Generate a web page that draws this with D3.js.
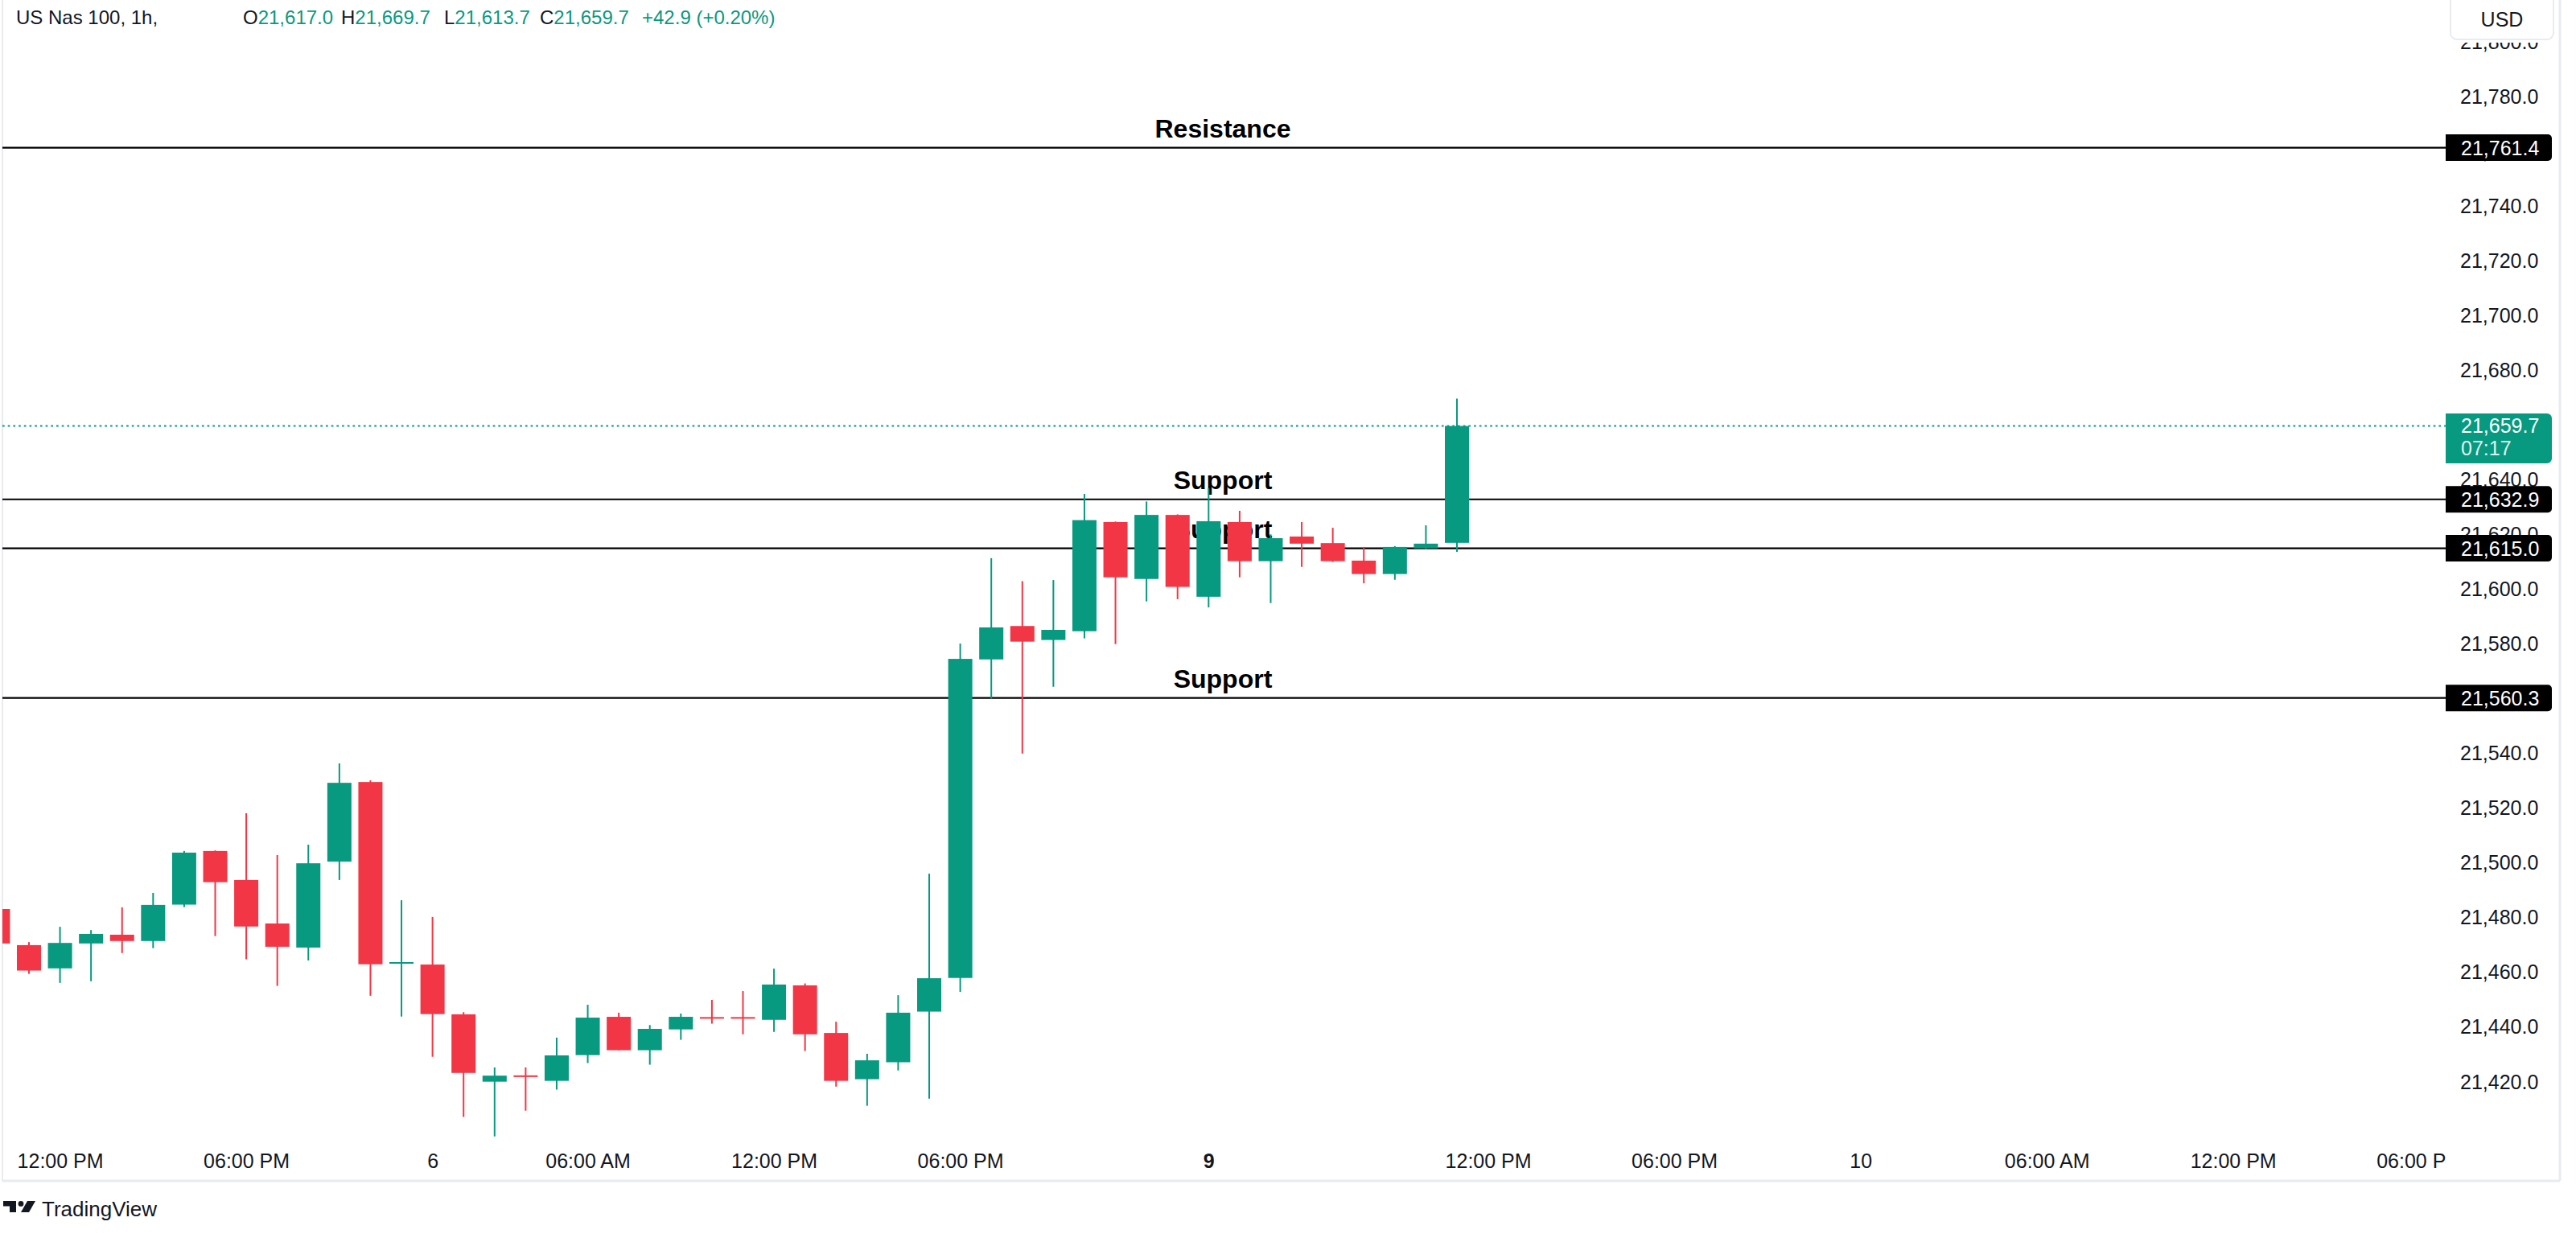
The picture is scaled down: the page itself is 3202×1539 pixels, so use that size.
<!DOCTYPE html>
<html><head><meta charset="utf-8">
<script src="https://cdn.jsdelivr.net/npm/d3@7"></script>
<style>
html,body{margin:0;padding:0;background:#fff;}
svg{display:block;font-family:"Liberation Sans",Arial,sans-serif;}
</style>
</head><body>
<svg id="c" width="3202" height="1539"></svg>
<script>
// ---- data (hourly candles, oldest first) ----
const opens  = [21483.2,21470.0,21461.5,21470.6,21473.8,21471.5,21484.8,21504.4,21493.8,21477.9,21469.1,21500.5,21529.6,21463.3,21462.9,21444.7,21420.1,21422.4,21420.4,21429.8,21443.8,21431.6,21439.2,21443.7,21443.7,21442.7,21455.3,21437.9,21421.0,21427.2,21445.7,21458.0,21574.4,21586.6,21581.5,21584.7,21624.6,21603.8,21627.2,21597.3,21624.6,21610.3,21619.3,21616.9,21610.5,21605.6,21615.0,21617.0];
const highs  = [21484.0,21471.1,21476.7,21475.5,21483.8,21489.1,21504.4,21504.6,21518.2,21502.9,21506.7,21536.4,21530.2,21486.4,21480.3,21445.5,21425.3,21425.3,21436.2,21448.2,21445.3,21440.8,21445.0,21450.0,21453.2,21461.4,21456.0,21442.0,21430.3,21451.7,21496.1,21580.2,21611.4,21603.0,21603.4,21634.9,21624.8,21632.1,21627.4,21637.0,21628.7,21620.1,21624.6,21622.5,21615.5,21615.8,21623.4,21669.7];
const lows   = [21470.0,21459.5,21456.2,21456.8,21467.1,21468.9,21483.9,21473.3,21464.8,21455.1,21464.4,21493.8,21451.5,21443.9,21429.2,21407.2,21400.1,21409.5,21417.2,21426.9,21431.6,21426.3,21435.4,21441.3,21437.4,21438.3,21431.3,21418.3,21411.3,21424.2,21413.9,21452.9,21560.1,21540.0,21564.4,21582.1,21580.0,21595.6,21596.4,21593.4,21604.4,21595.0,21608.2,21610.0,21602.2,21603.5,21614.7,21613.7];
const closes = [21470.6,21460.7,21470.8,21474.1,21471.5,21484.7,21503.8,21493.0,21476.8,21469.4,21499.9,21529.3,21463.0,21463.8,21444.8,21423.3,21422.3,21421.9,21429.7,21443.5,21431.6,21439.4,21443.8,21443.3,21443.2,21455.6,21437.4,21420.4,21427.9,21445.3,21457.9,21574.6,21586.1,21580.9,21585.2,21625.3,21604.4,21627.2,21600.9,21624.9,21610.3,21618.7,21616.7,21610.3,21605.6,21615.5,21616.7,21659.7];

const priceTicks = d3.range(21420, 21801, 20);
const timeLabels = ["12:00 PM","06:00 PM","6","06:00 AM","12:00 PM","06:00 PM","9","12:00 PM","06:00 PM","10","06:00 AM","12:00 PM","06:00 PM"];
const timeLabelIdx = [2,8,14,19,25,31,39,48,54,60,66,72,78];
const boldTimeLabels = ["9"];

const levelNames  = ["Resistance","Support","Support","Support"];
const levelValues = [21761.4, 21632.9, 21615.0, 21560.3];

const symbolTitle = "US Nas 100, 1h,";
const ohlcKeys = ["O","H","L","C"];
const ohlcVals = ["21,617.0","21,669.7","21,613.7","21,659.7"];
const changeText = "+42.9 (+0.20%)";
const lastPrice = 21659.7;
const countdown = "07:17";
const currency = "USD";

// ---- layout ----
const UP = "#089981", DOWN = "#f23645", TXT = "#131722", BORDER = "#e8ebef";
const plotL = 3, plotR = 3040, axisBottom = 1468, rightEdge = 3182;
const svg = d3.select("#c");

const x = d3.scaleLinear().domain([0, 47]).range([-2.6, 1811]);
const y = d3.scaleLinear().domain([21420, 21780]).range([1345, 120.3]);
const bodyW = 30;

const defs = svg.append("defs");
defs.append("clipPath").attr("id","plotClip").append("rect")
  .attr("x", plotL).attr("y", 0).attr("width", plotR - plotL).attr("height", axisBottom);

// borders
svg.append("line").attr("x1",plotL).attr("x2",plotL).attr("y1",0).attr("y2",axisBottom)
  .attr("stroke",BORDER).attr("stroke-width",2);
svg.append("line").attr("x1",rightEdge).attr("x2",rightEdge).attr("y1",0).attr("y2",axisBottom)
  .attr("stroke",BORDER).attr("stroke-width",3);
svg.append("line").attr("x1",plotL).attr("x2",rightEdge).attr("y1",axisBottom).attr("y2",axisBottom)
  .attr("stroke",BORDER).attr("stroke-width",3);

const plot = svg.append("g").attr("clip-path","url(#plotClip)");

// last price dotted line
plot.append("line").attr("x1",plotL).attr("x2",plotR)
  .attr("y1",y(lastPrice)).attr("y2",y(lastPrice))
  .attr("stroke",UP).attr("stroke-width",2).attr("stroke-dasharray","2.7,4");

// level lines + labels (behind candles)
const lv = plot.selectAll("g.level").data(levelValues).join("g").attr("class","level");
lv.append("line").attr("x1",plotL).attr("x2",plotR)
  .attr("y1",d=>y(d)).attr("y2",d=>y(d)).attr("stroke","#000").attr("stroke-width",2.2);
lv.append("text").attr("x",1520).attr("y",d=>y(d)-13).attr("text-anchor","middle")
  .attr("font-size",32).attr("font-weight","bold").attr("fill","#000")
  .text((d,i)=>levelNames[i]);

// candles
const idx = d3.range(opens.length);
const cg = plot.selectAll("g.candle").data(idx).join("g").attr("class","candle");
const col = i => closes[i] >= opens[i] ? UP : DOWN;
cg.append("rect")
  .attr("x", i => x(i) - 1).attr("width", 2)
  .attr("y", i => y(highs[i])).attr("height", i => Math.max(1, y(lows[i]) - y(highs[i])))
  .attr("fill", col);
cg.append("rect")
  .attr("x", i => x(i) - bodyW/2).attr("width", bodyW)
  .attr("y", i => y(Math.max(opens[i], closes[i])))
  .attr("height", i => Math.max(2, Math.abs(y(opens[i]) - y(closes[i]))))
  .attr("fill", col);

// price axis
const yAxis = d3.axisRight(y).tickValues(priceTicks).tickFormat(d3.format(",.1f"))
  .tickSize(0).tickPadding(18);
const ya = svg.append("g").attr("transform",`translate(${plotR},0)`).call(yAxis);
ya.select(".domain").remove();
ya.selectAll("text").attr("font-size",25).attr("fill",TXT)
  .attr("font-family",'"Liberation Sans",Arial,sans-serif');

function rightRounded(x0, y0, w, h, r){
  return `M${x0},${y0}H${x0+w-r}A${r},${r} 0 0 1 ${x0+w},${y0+r}V${y0+h-r}A${r},${r} 0 0 1 ${x0+w-r},${y0+h}H${x0}Z`;
}

// level price boxes
const lb = svg.selectAll("g.lbox").data(levelValues).join("g").attr("class","lbox");
lb.append("path").attr("d", d => rightRounded(plotR, y(d)-16.5, 132, 33, 5)).attr("fill","#000");
lb.append("text").attr("x", plotR+19).attr("y", d => y(d)).attr("dy","0.36em")
  .attr("font-size",25).attr("fill","#fff").text(d => d3.format(",.1f")(d));

// last price box
const ly = y(lastPrice);
svg.append("path").attr("d", rightRounded(plotR, ly-15.5, 132, 62, 6)).attr("fill",UP);
svg.append("text").attr("x",plotR+19).attr("y",ly-1).attr("dy","0.36em")
  .attr("font-size",25).attr("fill","#fff").text(d3.format(",.1f")(lastPrice));
svg.append("text").attr("x",plotR+19).attr("y",ly+27).attr("dy","0.36em")
  .attr("font-size",25).attr("fill","#fff").attr("fill-opacity",0.9).text(countdown);

// USD box (with the white strip above the top tick label)
svg.append("rect").attr("x",3042).attr("y",0).attr("width",138).attr("height",53).attr("fill","#fff");
svg.append("rect").attr("x",3046).attr("y",-12).attr("width",128).attr("height",61).attr("rx",8)
  .attr("fill","#fff").attr("stroke",BORDER).attr("stroke-width",2);
svg.append("text").attr("x",3110).attr("y",24).attr("dy","0.36em").attr("text-anchor","middle")
  .attr("font-size",25).attr("fill",TXT).text(currency);

// time axis
defs.append("clipPath").attr("id","timeClip").append("rect")
  .attr("x",plotL).attr("y",1400).attr("width",plotR-plotL).attr("height",68);
const xAxis = d3.axisBottom(x).tickValues(timeLabelIdx).tickFormat((d,i)=>timeLabels[i])
  .tickSize(0).tickPadding(9);
const xa = svg.append("g").attr("clip-path","url(#timeClip)")
  .append("g").attr("transform","translate(0,1425)").call(xAxis);
xa.select(".domain").remove();
xa.selectAll("text").attr("font-size",25).attr("fill",TXT)
  .attr("font-family",'"Liberation Sans",Arial,sans-serif')
  .attr("font-weight", (d,i) => boldTimeLabels.includes(timeLabels[i]) ? "bold" : "normal");

// header
const hdr = svg.append("g").attr("font-size",24);
hdr.append("text").attr("x",20).attr("y",30).attr("fill",TXT).text(symbolTitle);
const hx = [302, 424, 552, 671];
ohlcKeys.forEach((k,i)=>{
  const t = hdr.append("text").attr("x",hx[i]).attr("y",30);
  t.append("tspan").attr("fill",TXT).text(k);
  t.append("tspan").attr("fill",UP).text(ohlcVals[i]);
});
hdr.append("text").attr("x",798).attr("y",30).attr("fill",UP).text(changeText);

// TradingView logo
const logo = svg.append("g").attr("transform","translate(4,1493)").attr("fill",TXT);
logo.append("path").attr("d","M0,0H16V14H8V6.5H0Z");
logo.append("circle").attr("cx",22).attr("cy",3.4).attr("r",3.4);
logo.append("path").attr("d","M30,0H40L32,14H22Z");
svg.append("text").attr("x",52).attr("y",1512).attr("font-size",26).attr("fill",TXT).text("TradingView");
</script>
</body></html>
